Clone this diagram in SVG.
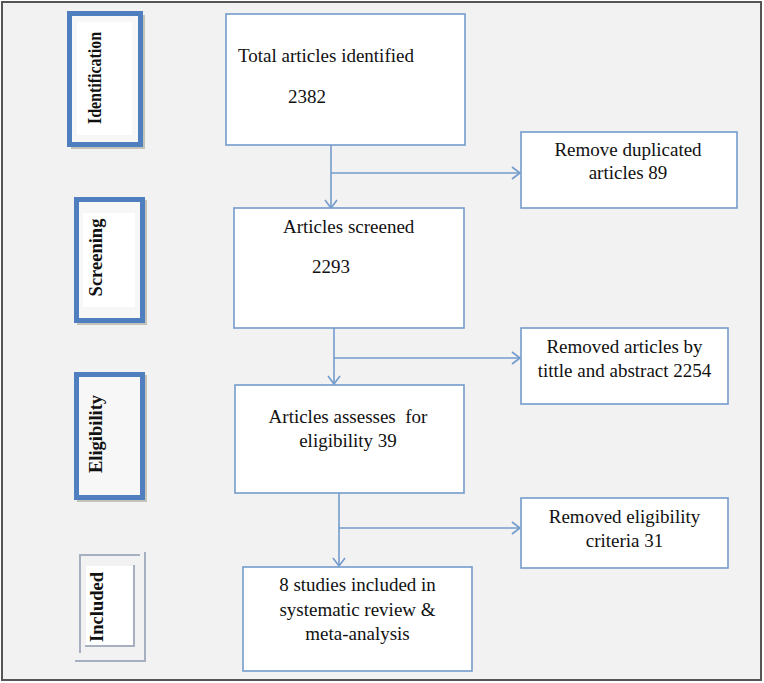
<svg xmlns="http://www.w3.org/2000/svg" width="764" height="683" viewBox="0 0 764 683">
  <defs>
    <style>
      .box { fill: #ffffff; stroke: #739bcc; stroke-width: 1.6; }
      .t { font-family: "Liberation Serif", "Times New Roman", serif; font-size: 19px; fill: #111; }
      .tc { text-anchor: middle; }
      .stage { fill: #f7f7f7; stroke: #4f7fbf; stroke-width: 5; }
      .shadow { fill: #9c9f86; opacity: 0.55; }
      .st { font-family: "Liberation Serif", "Times New Roman", serif; font-size: 18.5px; font-weight: bold; fill: #111; text-anchor: middle; }
      .conn { stroke: #739bcc; stroke-width: 1.6; fill: none; }
      .inc { stroke: #a7b0c0; stroke-width: 2; fill: none; }
    </style>
    <marker id="arr" viewBox="0 0 10 14" refX="9" refY="7" markerWidth="10" markerHeight="14" markerUnits="userSpaceOnUse" orient="auto">
      <path d="M1,1 L9,7 L1,13" fill="none" stroke="#739bcc" stroke-width="1.6"/>
    </marker>
  </defs>

  <rect x="0" y="0" width="764" height="683" fill="#ffffff"/>
  <rect id="frame" x="2" y="2" width="759" height="678" fill="#f2f2f2" stroke="#555555" stroke-width="2"/>

  <!-- Stage labels -->
  <g id="stage-identification">
    <rect class="shadow" x="71" y="15" width="74" height="134"/>
    <rect class="stage" x="69.5" y="13.5" width="71" height="131" stroke-width="4.5"/>
    <rect x="77" y="22" width="55" height="113" fill="#ffffff"/>
    <text class="st" transform="translate(101,78) rotate(-90)" textLength="92" lengthAdjust="spacingAndGlyphs">Identification</text>
  </g>
  <g id="stage-screening">
    <rect class="shadow" x="77" y="200" width="70" height="125"/>
    <rect class="stage" x="76.5" y="199.5" width="66" height="121"/>
    <rect x="83" y="213" width="52" height="94" fill="#ffffff"/>
    <text class="st" transform="translate(101.5,257.5) rotate(-90)">Screening</text>
  </g>
  <g id="stage-eligibility">
    <rect class="shadow" x="77" y="375" width="70" height="127"/>
    <rect class="stage" x="76.5" y="374.5" width="66" height="123" fill="#ffffff"/>
    <text class="st" transform="translate(102,434) rotate(-90)">Eligibility</text>
  </g>
  <g id="stage-included">
    <rect x="86" y="566" width="49" height="80" fill="#ffffff"/>
    <path class="inc" d="M80,653 V555 H140"/>
    <path class="inc" d="M75,661 H145 V552"/>
    <path class="inc" d="M134,565 V646 H85"/>
    <text class="st" transform="translate(103,607) rotate(-90)">Included</text>
  </g>

  <!-- Connectors -->
  <g id="connectors">
    <line class="conn" x1="331" y1="145" x2="331" y2="208" marker-end="url(#arr)"/>
    <line class="conn" x1="331" y1="173" x2="520" y2="173" marker-end="url(#arr)"/>
    <line class="conn" x1="334" y1="328" x2="334" y2="384" marker-end="url(#arr)"/>
    <line class="conn" x1="334" y1="358" x2="520" y2="358" marker-end="url(#arr)"/>
    <line class="conn" x1="339" y1="493" x2="339" y2="566" marker-end="url(#arr)"/>
    <line class="conn" x1="339" y1="528" x2="520" y2="528" marker-end="url(#arr)"/>
  </g>

  <!-- Main boxes -->
  <g id="box-identified">
    <rect class="box" x="226" y="14" width="239" height="131"/>
    <text class="t" x="238" y="62">Total articles identified</text>
    <text class="t" x="288" y="103">2382</text>
  </g>
  <g id="box-screened">
    <rect class="box" x="234" y="208" width="230" height="120"/>
    <text class="t" x="283" y="233">Articles screened</text>
    <text class="t" x="312" y="273">2293</text>
  </g>
  <g id="box-eligibility">
    <rect class="box" x="235" y="385" width="229" height="108"/>
    <text class="t tc" x="348" y="423" xml:space="preserve">Articles assesses  for</text>
    <text class="t tc" x="348" y="447">eligibility 39</text>
  </g>
  <g id="box-included">
    <rect class="box" x="243" y="567" width="229" height="104"/>
    <text class="t tc" x="357.5" y="591">8 studies included in</text>
    <text class="t tc" x="357.5" y="616">systematic review &amp;</text>
    <text class="t tc" x="357.5" y="640">meta-analysis</text>
  </g>

  <!-- Side boxes -->
  <g id="box-duplicates">
    <rect class="box" x="521" y="132" width="216" height="76"/>
    <text class="t tc" x="628" y="156">Remove duplicated</text>
    <text class="t tc" x="628" y="179">articles 89</text>
  </g>
  <g id="box-removed-title">
    <rect class="box" x="521" y="328" width="207" height="76"/>
    <text class="t tc" x="624.5" y="353">Removed articles by</text>
    <text class="t tc" x="624.5" y="377">tittle and abstract 2254</text>
  </g>
  <g id="box-removed-eligibility">
    <rect class="box" x="521" y="498" width="207" height="70"/>
    <text class="t tc" x="624.5" y="523">Removed eligibility</text>
    <text class="t tc" x="624.5" y="547">criteria 31</text>
  </g>
</svg>
